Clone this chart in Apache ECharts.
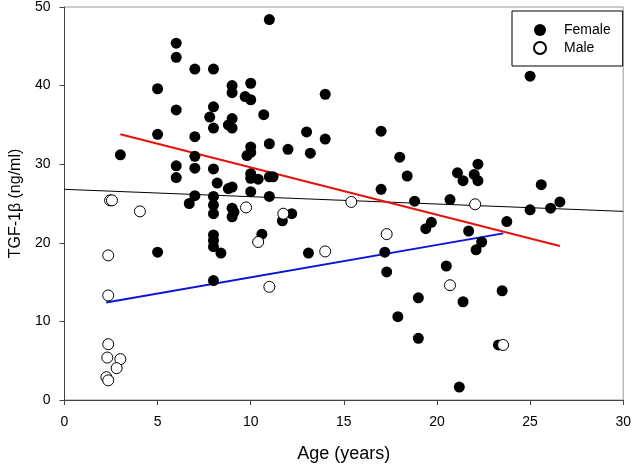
<!DOCTYPE html>
<html>
<head>
<meta charset="utf-8">
<script src="https://cdn.jsdelivr.net/npm/echarts@6/dist/echarts.min.js"></script>
<style>html,body{margin:0;padding:0;background:#fff;}#c{width:634px;height:468px;}</style>
</head>
<body>
<div id="c"></div>
<script>
// Female (filled) points: age, TGF-1β
var femaleAge = [6.0,6.0,7.0,8.0,5.0,9.0,9.0,10.0,9.7,10.0,6.0,8.0,7.8,9.0,8.8,9.0,8.0,5.0,7.0,3.0,10.0,10.0,9.8,7.0,6.0,7.0,8.0,6.0,10.0,10.0,10.4,8.2,8.8,9.0,10.0,7.0,8.0,
  6.7,8.0,8.0,9.0,9.1,9.0,8.0,8.0,8.0,8.4,5.0,8.0,
  11.0,10.7,14.0,13.0,17.0,11.0,12.0,13.2,14.0,18.0,18.4,11.0,11.2,11.0,17.0,18.8,12.2,
  11.7,10.6,13.1,17.2,17.3,19.4,19.7,19.0,17.9,19.0,
  25.0,22.2,21.1,21.4,22.0,22.2,25.6,20.7,25.0,26.1,26.6,23.75,21.7,22.4,22.1,20.5,23.5,21.4,23.3,21.2];
var femaleTGF = [45.4,43.6,42.1,42.1,39.6,40.0,39.1,40.3,38.6,38.2,36.9,37.3,36.0,35.8,35.0,34.6,34.6,33.8,33.5,31.2,32.2,31.5,31.1,31.0,29.8,29.5,29.4,28.3,28.8,28.2,28.1,27.6,26.9,27.1,26.5,26.0,25.9,
  25.0,24.8,23.7,24.4,23.9,23.3,21.0,20.3,19.5,18.7,18.8,15.2,
  48.4,36.3,38.9,34.1,34.2,32.6,31.9,31.4,33.2,30.9,28.5,28.4,28.4,25.9,26.8,25.3,23.7,
  22.8,21.1,18.7,18.8,16.3,21.8,22.6,13.0,10.6,7.85,
  41.2,30.0,28.9,27.9,28.7,27.9,27.4,25.5,24.2,24.4,25.2,22.7,21.5,20.1,19.1,17.05,13.9,12.5,7.0,1.65];
// Male (open) points
var maleAge = [2.45,2.55,4.05,2.35,2.35,2.35,2.3,3.0,2.8,2.25,2.35,9.75,10.4,15.4,11.75,14.0,11.0,17.3,22.05,20.7,23.55];
var maleTGF = [25.4,25.4,24.0,18.4,13.3,7.1,5.4,5.2,4.05,2.9,2.5,24.5,20.1,25.2,23.7,18.9,14.4,21.1,24.9,14.6,7.0];
// Regression line end points
var fitAllAge = [0, 30];
var fitAllTGF = [26.8, 24.0];
var fitFemaleAge = [3.0, 26.6];
var fitFemaleTGF = [33.8, 19.6];
var fitMaleAge = [2.24, 23.56];
var fitMaleTGF = [12.4, 21.2];
var xTicks = [0, 5, 10, 15, 20, 25, 30];
var yTicks = [0, 10, 20, 30, 40, 50];

function zip(a, b) { return a.map(function (v, i) { return [v, b[i]]; }); }

var font = '"Liberation Sans", Arial, sans-serif';
var chart = echarts.init(document.getElementById('c'), null, { renderer: 'canvas' });
chart.setOption({
  animation: false,
  backgroundColor: '#fff',
  grid: { left: 63, right: 9, top: 6, bottom: 67, show: true, borderColor: '#999', borderWidth: 1, backgroundColor: 'transparent' },
  legend: {
    orient: 'vertical', left: 512, top: 11,
    padding: [12, 12, 11, 21],
    itemGap: 4, itemWidth: 12, itemHeight: 12,
    borderColor: '#000', borderWidth: 1, backgroundColor: '#fff',
    textStyle: { fontFamily: font, fontSize: 14, color: '#000', lineHeight: 14, padding: [0, 0, 0, 13] },
    data: [{ name: 'Female', icon: 'circle' }, { name: 'Male', icon: 'circle' }]
  },
  xAxis: {
    type: 'value', min: xTicks[0], max: xTicks[xTicks.length - 1], interval: 5,
    name: 'Age (years)', nameLocation: 'middle', nameGap: 45,
    nameTextStyle: { fontFamily: font, fontSize: 18, color: '#000' },
    axisLine: { show: true, lineStyle: { color: '#444', width: 1 } },
    axisTick: { show: true, inside: false, length: 5, lineStyle: { color: '#444' } },
    axisLabel: { fontFamily: font, fontSize: 14, color: '#000', margin: 15 },
    splitLine: { show: false }
  },
  yAxis: {
    type: 'value', min: yTicks[0], max: yTicks[yTicks.length - 1], interval: 10,
    name: 'TGF-1β (ng/ml)', nameLocation: 'middle', nameGap: 38, nameRotate: 90,
    nameTextStyle: { fontFamily: font, fontSize: 16, color: '#000' },
    axisLine: { show: true, lineStyle: { color: '#444', width: 1 } },
    axisTick: { show: true, inside: false, length: 5, lineStyle: { color: '#444' } },
    axisLabel: { fontFamily: font, fontSize: 14, color: '#000', margin: 14 },
    splitLine: { show: false }
  },
  series: [
    { type: 'line', name: 'fitAll', data: zip(fitAllAge, fitAllTGF), symbol: 'none', lineStyle: { color: '#000', width: 1 }, silent: true, z: 1 },
    { type: 'line', name: 'fitFemale', data: zip(fitFemaleAge, fitFemaleTGF), symbol: 'none', lineStyle: { color: '#e8120c', width: 2 }, silent: true, z: 1 },
    { type: 'line', name: 'fitMale', data: zip(fitMaleAge, fitMaleTGF), symbol: 'none', lineStyle: { color: '#0a14d8', width: 2 }, silent: true, z: 1 },
    { type: 'scatter', name: 'Female', data: zip(femaleAge, femaleTGF), symbol: 'circle', symbolSize: 11,
      itemStyle: { color: '#000', borderColor: '#000', borderWidth: 0, opacity: 1 }, z: 3 },
    { type: 'scatter', name: 'Male', data: zip(maleAge, maleTGF), symbol: 'circle', symbolSize: 11,
      itemStyle: { color: '#fff', borderColor: '#000', borderWidth: 1, opacity: 1 }, z: 4 }
  ]
});
</script>
</body>
</html>
